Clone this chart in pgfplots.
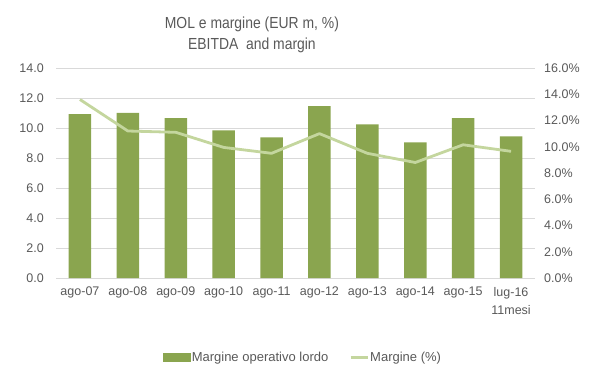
\documentclass[border=0pt]{standalone}
\usepackage{pgfplots}
\pgfplotsset{compat=1.18}
\usepackage{fontspec}
\setmainfont{Liberation Sans}
\newfontfamily\titlefont[FakeStretch=0.87]{Liberation Sans}
\definecolor{barg}{HTML}{8AA54F}
\definecolor{lineg}{HTML}{C4D69E}
\definecolor{txt}{HTML}{595959}
\definecolor{gridc}{HTML}{D9D9D9}
\begin{document}
\begin{tikzpicture}
\path[use as bounding box] (0,0) rectangle (599pt,378pt);
\begin{axis}[
  at={(56pt,100pt)}, anchor=south west,
  scale only axis, width=479pt, height=210pt,
  xmin=-0.5, xmax=9.5, ymin=0, ymax=14,
  ytick={0,2,...,14},
  xtick={0,...,9},
  xticklabels={ago-07,ago-08,ago-09,ago-10,ago-11,ago-12,ago-13,ago-14,ago-15,{lug-16\\11mesi}},
  axis x line*=bottom, axis y line*=left,
  y axis line style={draw=none},
  x axis line style={draw=gridc, line width=0.8pt},
  major tick length=0pt,
  ymajorgrids, grid style={draw=gridc, line width=0.8pt},
  /pgf/number format/assume math mode=true,
  yticklabel={\pgfmathprintnumber[fixed,fixed zerofill,precision=1]{\tick}},
  ticklabel style={font=\fontsize{12.5}{18}\selectfont, text=txt},
  yticklabel style={inner sep=0pt, xshift=-12pt},
  xticklabel style={align=center, inner sep=0pt, yshift=-9pt},
  title={MOL e margine (EUR m, \%)\\EBITDA\ \ and margin},
  title style={at={(0.409,1.128)}, anchor=center, align=center, text=txt,
    font=\titlefont\fontsize{16}{20.7}\selectfont},
]
\addplot[ybar, bar width=22.5pt, fill=barg, draw=none] coordinates {
  (0,10.92) (1,11.00) (2,10.65) (3,9.84) (4,9.37) (5,11.46) (6,10.25) (7,9.04) (8,10.65) (9,9.44)
};
\end{axis}
\begin{axis}[
  at={(56pt,100pt)}, anchor=south west,
  scale only axis, width=479pt, height=210pt,
  xmin=-0.5, xmax=9.5, ymin=0, ymax=16,
  ytick={0,2,...,16},
  axis x line=none, axis y line*=right,
  y axis line style={draw=none},
  major tick length=0pt,
  /pgf/number format/assume math mode=true,
  yticklabel={\pgfmathprintnumber[fixed,fixed zerofill,precision=1]{\tick}\%},
  ticklabel style={font=\fontsize{12.5}{16.5}\selectfont, text=txt},
  yticklabel style={inner sep=0pt, xshift=9pt},
  legend columns=2,
  legend style={at={(0.515,-0.378)}, anchor=center, draw=none, fill=none,
    font=\fontsize{13}{15}\selectfont, text=txt,
    /tikz/every even column/.append style={column sep=20pt},
    inner sep=0pt, nodes={inner sep=1pt}},
]
\addlegendimage{legend image code/.code={\fill[barg] (0pt,-4pt) rectangle (27pt,4pt);}}
\addlegendentry{Margine operativo lordo}
\addplot[lineg, line width=2.8pt, line join=round, mark=none] coordinates {
  (0,13.6) (1,11.2) (2,11.1) (3,9.95) (4,9.5) (5,11.0) (6,9.5) (7,8.8) (8,10.15) (9,9.65)
};
\addlegendentry{Margine (\%)}
\end{axis}
\end{tikzpicture}
\end{document}
